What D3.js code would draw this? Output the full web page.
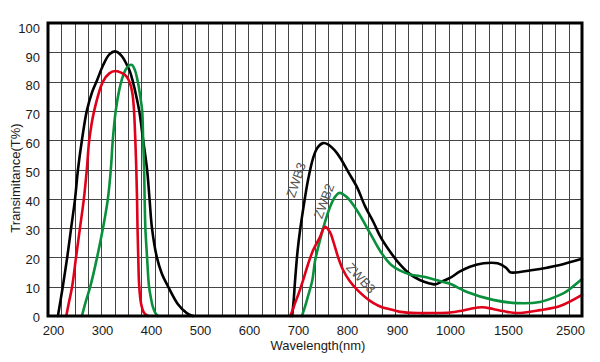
<!DOCTYPE html>
<html><head><meta charset="utf-8">
<script src="https://cdn.jsdelivr.net/npm/d3@7"></script>
<style>
html,body{margin:0;padding:0;background:#fff;}
svg{display:block;font-family:"Liberation Sans",Arial,sans-serif;}
</style></head>
<body><svg id="c" width="600" height="362"></svg>
<script>
// ---- data ----
const xTickValues = [200,300,400,500,600,700,800,900,1000,1500,2500];
const yTickValues = [0,10,20,30,40,50,60,70,80,90,100];
const seriesNames = ["ZWB3","ZWB2","ZWB3"];
const seriesColors = ["#000000","#0a8f3c","#e0001a"];

const blackUV = [[210,0],[220,10],[229,20],[237,30],[245,40],[251,50],[259,60],[269,70],[280,76.5],[290,80.5],[302,85.5],[315,89.3],[327,90.3],[340,88.8],[350,86],[357,83.5],[363,80],[370,75],[376,70],[384,60],[392,50],[397,40],[402,30],[412,20],[422,14.5],[435,10],[455,4],[473,1],[486,0]];
const redUV = [[227,0],[233,5],[239,10],[247,20],[255,30],[263,40],[269,50],[274,60],[284,70],[302,80],[315,82.8],[327,83.6],[340,83],[350,81.8],[357,79.5],[362,76],[365,71],[368,60],[370,50],[371.5,40],[372.5,30],[374,20],[376,10],[380,4],[386,1],[394,0]];
const greenUV = [[259,0],[267,5],[276,10],[290,20],[302,30],[312,40],[318,50],[322,60],[328,70],[335,77],[341,81],[348,84],[355,85.5],[361,85.7],[367,84],[373,80],[378,75],[382,70],[384,60],[386,50],[387,40],[388.5,30],[392,20],[396,10],[400,6],[404,3],[409,1],[414,0]];

const blackNIR = [[688,0],[691,5],[694,12],[699,22],[704,29],[712,38],[720,46],[731,54],[740,57.5],[751,59],[762,58.5],[775,56.5],[786,54],[803,49],[820,44],[836,37.5],[853,32],[867,27],[886,22],[906,17.5],[925,14.2],[943,12.3],[960,11.2],[972,10.8],[985,11.8],[1000,13],[1086,15.2],[1172,16.8],[1290,18],[1410,18],[1483,16.5],[1530,15],[1581,14.8],[1903,15.7],[2129,16.5],[2339,17.4],[2694,19.5]];
const greenNIR = [[708,0],[714,3],[720,6.5],[729,12],[735,19],[745,26],[755,32],[765,37],[775,40.5],[784,42],[800,40.5],[820,36],[847,28],[867,22],[888,17.5],[906,15.5],[925,14.2],[953,13.3],[987,11.6],[1000,11],[1147,8.2],[1371,5.5],[1645,4.4],[2016,4.8],[2339,7.2],[2452,8.5],[2694,12.6]];
const redNIR = [[684,0],[689,2],[694,4.4],[702,8],[710,12],[720,17.4],[731,22.5],[745,27],[755,30.4],[765,28.7],[771,26],[782,20],[792,15.7],[805,12],[820,9],[836,6.5],[853,4.4],[870,3],[888,2.2],[906,1.4],[940,1],[968,1],[1000,1.2],[1086,1.7],[1180,2.5],[1276,3],[1371,2.4],[1457,1.7],[1645,1],[2016,2],[2339,3.4],[2694,7.2]];

// ---- layout ----
const L = 48, R = 582, T = 23, B = 316;
const svg = d3.select("#c");

// piecewise (non-uniform) wavelength scale as printed on the chart
const x = d3.scaleLinear()
  .domain([190,200,300,400,500,600,700,800,900,1000,1500,2500,2694])
  .range([L,53,102,151,200,249,298,347,397,450,508,570,R]);
const y = d3.scaleLinear().domain([0,100]).range([B,T]);
const yLab = d3.scaleLinear().domain([0,100]).range([317,28]);

// grid
const nCols = 40;
const colX = d3.scaleLinear().domain([0,nCols]).range([L,R]);
const grid = svg.append("g").attr("stroke","#444").attr("stroke-width",1).attr("shape-rendering","crispEdges");
grid.selectAll("line.v").data(d3.range(1,nCols)).join("line")
  .attr("x1",d=>Math.round(colX(d))+0.5).attr("x2",d=>Math.round(colX(d))+0.5)
  .attr("y1",T).attr("y2",B);
grid.selectAll("line.h").data(yTickValues.slice(1,-1)).join("line")
  .attr("x1",L).attr("x2",R)
  .attr("y1",d=>Math.round(y(d))+0.5).attr("y2",d=>Math.round(y(d))+0.5);

// curves
const line = d3.line().x(d=>x(d[0])).y(d=>Math.min(B, y(d[1]))).curve(d3.curveCatmullRom.alpha(0.5));
const curves = [
  [blackUV,seriesColors[0]],[blackNIR,seriesColors[0]],
  [greenUV,seriesColors[1]],[greenNIR,seriesColors[1]],
  [redUV,seriesColors[2]],[redNIR,seriesColors[2]]
];
svg.append("g").selectAll("path").data(curves).join("path")
  .attr("d",d=>line(d[0])).attr("fill","none").attr("stroke",d=>d[1])
  .attr("stroke-width",2.6).attr("stroke-linejoin","round").attr("stroke-linecap","round");

// frame
svg.append("rect").attr("x",L).attr("y",T).attr("width",R-L).attr("height",B-T)
  .attr("fill","none").attr("stroke","#000").attr("stroke-width",3);

// axes (labels only)
const xAxis = svg.append("g").attr("transform",`translate(0,${B+6})`)
  .call(d3.axisBottom(x).tickValues(xTickValues).tickSize(0).tickPadding(4).tickFormat(d3.format("d")));
xAxis.select(".domain").remove();
xAxis.selectAll("text").attr("font-size",13).attr("fill","#1a1a1a").attr("font-family","Liberation Sans, Arial, sans-serif");

const yAxis = svg.append("g").attr("transform",`translate(${L-4},0)`)
  .call(d3.axisLeft(yLab).tickValues(yTickValues).tickSize(0).tickPadding(4));
yAxis.select(".domain").remove();
yAxis.selectAll("text").attr("font-size",13).attr("fill","#1a1a1a").attr("font-family","Liberation Sans, Arial, sans-serif");

// axis titles
svg.append("text").attr("x",318).attr("y",350).attr("text-anchor","middle")
  .attr("font-size",13).attr("fill","#1a1a1a").text("Wavelength(nm)");
svg.append("text").attr("transform","translate(20,178) rotate(-90)").attr("text-anchor","middle")
  .attr("font-size",13).attr("fill","#1a1a1a").text("Transimitance(T%)");

// curve labels
const lbls = [
  {t:seriesNames[0], cx:296, cy:180, r:-71},
  {t:seriesNames[1], cx:324, cy:201, r:-70},
  {t:seriesNames[2], cx:361, cy:278, r:47}
];
svg.append("g").selectAll("text").data(lbls).join("text")
  .attr("transform",d=>`translate(${d.cx},${d.cy}) rotate(${d.r})`)
  .attr("text-anchor","middle").attr("dy","0.35em")
  .attr("font-size",13).attr("fill","#555").text(d=>d.t);
</script></body></html>
